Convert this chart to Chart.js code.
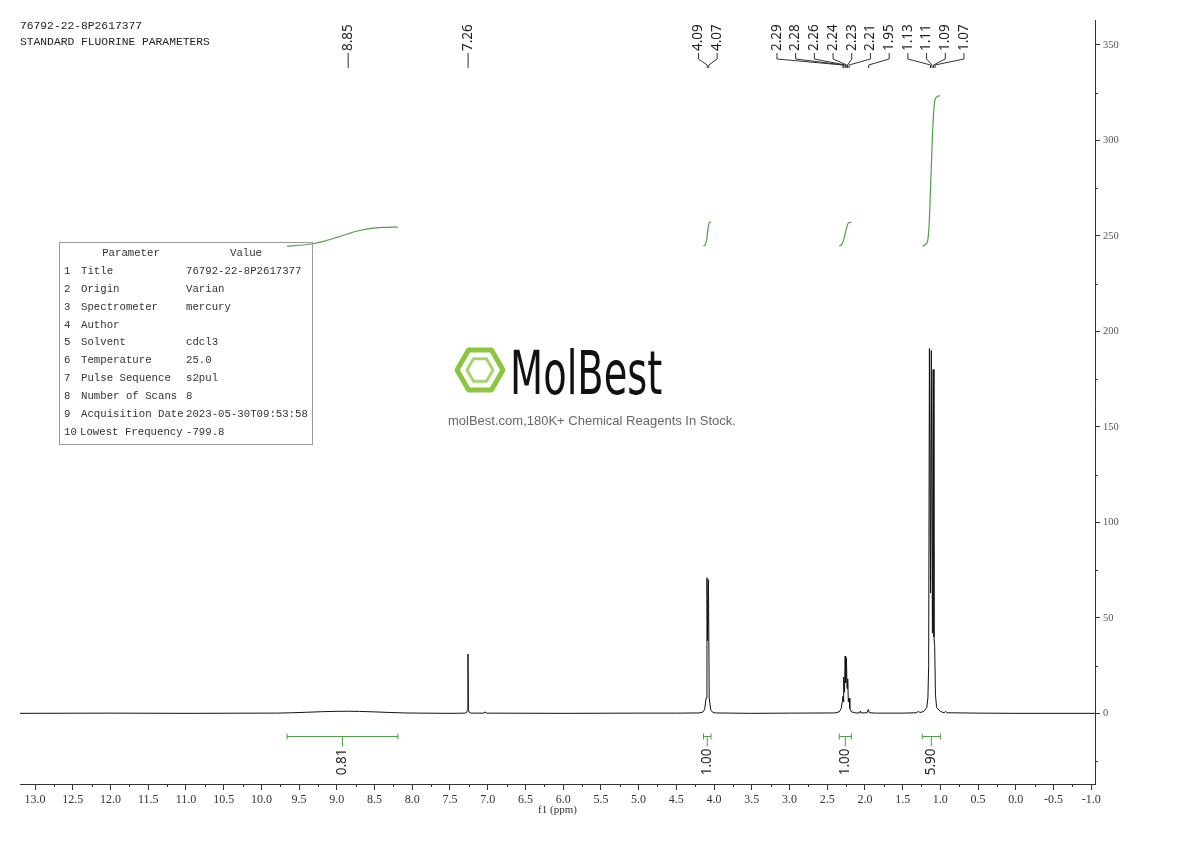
<!DOCTYPE html>
<html>
<head>
<meta charset="utf-8">
<title>76792-22-8P2617377</title>
<script src="https://cdn.jsdelivr.net/npm/chart.js@4.4.1/dist/chart.umd.min.js"></script>
<style>
  html, body { margin: 0; padding: 0; background: #fff; }
</style>
</head>
<body>
<canvas id="nmr" width="1190" height="841"></canvas>
<script>
const sampleTitle = "76792-22-8P2617377";
const experimentTitle = "STANDARD FLUORINE PARAMETERS";

// spectrum trace: shift (ppm) and intensity
const shiftPpm = [
  13.2, 12.0, 11.0, 10.0, 9.8, 9.6, 9.4, 9.2, 9.0, 8.85, 8.7, 8.5, 8.3, 8.1, 7.9, 7.5,
  7.30, 7.28, 7.268, 7.262, 7.256, 7.245, 7.22, 7.05, 7.035, 7.02, 6.0, 5.0, 4.5,
  4.20, 4.15, 4.125, 4.105, 4.094, 4.084, 4.074, 4.064, 4.045, 4.02, 3.98, 3.5, 3.0,
  2.40, 2.34, 2.315, 2.30, 2.29, 2.285, 2.278, 2.27, 2.262, 2.255, 2.245, 2.237, 2.228,
  2.22, 2.21, 2.20, 2.18, 2.12, 2.07, 2.06, 2.05, 1.97, 1.955, 1.94, 1.85, 1.5,
  1.32, 1.29, 1.27, 1.22, 1.18, 1.165, 1.155, 1.145, 1.13, 1.12, 1.105, 1.095, 1.085,
  1.075, 1.065, 1.05, 1.0, 0.95, 0.93, 0.91, 0.5, 0.0, -1.05
];
const intensity = [
  0, 0.1, 0, 0.1, 0.1, 0.3, 0.55, 0.85, 1.05, 1.1, 1.0, 0.75, 0.45, 0.2, 0.1, 0,
  0.1, 0.4, 2, 31, 2, 0.4, 0.1, 0.1, 0.8, 0.1, 0, 0.1, 0.1,
  0.2, 0.6, 2, 8, 71, 38, 70, 8, 2, 0.6, 0.2, 0, 0.1,
  0.2, 0.8, 2.5, 6, 9, 6, 19, 11, 30, 16, 29, 13, 18,
  6, 8, 2.5, 0.8, 0.2, 0.2, 1.2, 0.2, 0.3, 2, 0.3, 0.1, 0.1,
  0.3, 1, 0.4, 1, 3, 8, 25, 191, 63, 190, 42, 180, 40,
  35, 10, 3, 1, 0.3, 1, 0.3, 0.1, 0, 0
];

// integral curves
const int1Ppm = [9.66, 9.45, 9.30, 9.15, 9.00, 8.85, 8.70, 8.55, 8.40, 8.19];
const int1Val = [244.6, 245.2, 246.0, 247.4, 249.2, 251.1, 252.8, 253.9, 254.4, 254.6];
const int2Ppm = [4.14, 4.12, 4.10, 4.09, 4.08, 4.07, 4.06, 4.04];
const int2Val = [244.6, 245.2, 247.5, 250.5, 253.5, 256.0, 257.0, 257.3];
const int3Ppm = [2.34, 2.31, 2.28, 2.26, 2.24, 2.22, 2.18];
const int3Val = [244.6, 245.3, 248.0, 251.5, 254.5, 256.6, 257.2];
const int4Ppm = [1.24, 1.20, 1.17, 1.15, 1.13, 1.11, 1.09, 1.07, 1.04, 1.00];
const int4Val = [244.6, 245.3, 247.0, 255.0, 275.0, 297.0, 314.0, 321.5, 323.0, 323.3];

// integration regions under the trace
const integralFrom = [9.66, 4.14, 2.34, 1.24];
const integralTo = [8.19, 4.04, 2.18, 1.00];
const integralLabels = ["0.81", "1.00", "1.00", "5.90"];

// picked peaks
const peakShifts = [8.85, 7.26, 4.09, 4.07, 2.29, 2.28, 2.26, 2.24, 2.23, 2.21, 1.95, 1.13, 1.11, 1.09, 1.07];

const xTicks = [13.0, 12.5, 12.0, 11.5, 11.0, 10.5, 10.0, 9.5, 9.0, 8.5, 8.0, 7.5, 7.0, 6.5, 6.0,
  5.5, 5.0, 4.5, 4.0, 3.5, 3.0, 2.5, 2.0, 1.5, 1.0, 0.5, 0.0, -0.5, -1.0];
const yTicks = [0, 50, 100, 150, 200, 250, 300, 350];

const paramNames = ["Title", "Origin", "Spectrometer", "Author", "Solvent", "Temperature",
  "Pulse Sequence", "Number of Scans", "Acquisition Date", "Lowest Frequency"];
const paramValues = ["76792-22-8P2617377", "Varian", "mercury", "", "cdcl3", "25.0",
  "s2pul", "8", "2023-05-30T09:53:58", "-799.8"];

const green = "#4f9f4a";
const serif = '"Liberation Serif", "DejaVu Serif", serif';
const mono = '"Liberation Mono", "DejaVu Sans Mono", monospace';
const sans = '"Noto Sans", "Open Sans", sans-serif';

const toPoints = (xs, ys) => xs.map((v, i) => ({ x: v, y: ys[i] }));

// push overlapping labels apart into evenly spaced groups
function spreadLabels(xs, gap) {
  let groups = xs.map(v => ({ sum: v, n: 1, first: v, start: v }));
  let merged = true;
  while (merged) {
    merged = false;
    for (let i = 0; i < groups.length - 1; i++) {
      const a = groups[i], b = groups[i + 1];
      if (a.start + a.n * gap > b.start) {
        const g = { sum: a.sum + b.sum, n: a.n + b.n, first: a.first };
        const anchor = 0.75 * (g.sum / g.n) + 0.25 * g.first;
        g.start = anchor - (g.n - 1) * gap / 2;
        groups.splice(i, 2, g);
        merged = true;
        break;
      }
    }
  }
  const out = [];
  groups.forEach(g => { for (let k = 0; k < g.n; k++) out.push(g.start + k * gap); });
  return out;
}

const annotations = {
  id: "annotations",
  afterDraw(chart) {
    const { ctx, chartArea, scales: { x, y } } = chart;
    ctx.save();

    // minor ticks
    ctx.strokeStyle = "#333";
    ctx.lineWidth = 1;
    ctx.beginPath();
    xTicks.forEach(v => {
      const m = v - 0.25;
      if (m < -1.0) return;
      const px = Math.round(x.getPixelForValue(m)) + 0.5;
      ctx.moveTo(px, chartArea.bottom);
      ctx.lineTo(px, chartArea.bottom + 3);
    });
    yTicks.concat([-50]).forEach(v => {
      const m = v + 25;
      if (m > 360) return;
      const py = Math.round(y.getPixelForValue(m)) + 0.5;
      ctx.moveTo(chartArea.right, py);
      ctx.lineTo(chartArea.right + 3, py);
    });
    ctx.stroke();

    // header
    ctx.fillStyle = "#222";
    ctx.font = "11.3px " + mono;
    ctx.textBaseline = "middle";
    ctx.textAlign = "left";
    ctx.fillText(sampleTitle, 20, 26);
    ctx.fillText(experimentTitle, 20, 42);

    // parameter table
    ctx.strokeStyle = "#9a9a9a";
    ctx.strokeRect(59.5, 242.5, 253, 202);
    ctx.font = "10.7px " + mono;
    ctx.fillStyle = "#333";
    ctx.textAlign = "center";
    ctx.fillText("Parameter", 131, 253);
    ctx.fillText("Value", 246, 253);
    ctx.textAlign = "left";
    paramNames.forEach((n, i) => {
      const ty = 271 + i * 17.9;
      ctx.fillText(String(i + 1), 64, ty);
      ctx.fillText(n, i === 9 ? 80 : 81, ty);
      ctx.fillText(paramValues[i], 186, ty);
    });

    // watermark logo
    const cx = 480, cy = 370;
    const hex = r => {
      ctx.beginPath();
      for (let k = 0; k < 6; k++) {
        const a = Math.PI / 3 * k;
        const hx = cx + r * Math.cos(a), hy = cy + r * Math.sin(a);
        k ? ctx.lineTo(hx, hy) : ctx.moveTo(hx, hy);
      }
      ctx.closePath();
    };
    ctx.lineJoin = "round";
    ctx.strokeStyle = "#8cc63f";
    ctx.lineWidth = 5;
    hex(23);
    ctx.stroke();
    ctx.strokeStyle = "#a9d46c";
    ctx.lineWidth = 3;
    hex(13);
    ctx.stroke();
    ctx.save();
    ctx.translate(510, 394);
    ctx.scale(0.64, 1);
    ctx.fillStyle = "#111";
    ctx.font = '60px "DejaVu Sans", sans-serif';
    ctx.textBaseline = "alphabetic";
    ctx.fillText("MolBest", 0, 0);
    ctx.restore();
    ctx.fillStyle = "#666";
    ctx.font = '13px "Liberation Sans", Arial, sans-serif';
    ctx.textBaseline = "middle";
    ctx.fillText("molBest.com,180K+ Chemical Reagents In Stock.", 448, 421);

    // integration brackets and values
    const by = Math.round(y.getPixelForValue(-12)) + 0.5;
    ctx.font = "13.5px " + sans;
    integralFrom.forEach((f, i) => {
      const x1 = x.getPixelForValue(f), x2 = x.getPixelForValue(integralTo[i]);
      const mid = (x1 + x2) / 2;
      ctx.strokeStyle = green;
      ctx.lineWidth = 1;
      ctx.beginPath();
      ctx.moveTo(x1, by); ctx.lineTo(x2, by);
      ctx.moveTo(x1, by - 3); ctx.lineTo(x1, by + 3);
      ctx.moveTo(x2, by - 3); ctx.lineTo(x2, by + 3);
      ctx.moveTo(mid, by); ctx.lineTo(mid, by + 10);
      ctx.stroke();
      ctx.save();
      ctx.fillStyle = "#222";
      ctx.translate(mid, by + 12);
      ctx.rotate(-Math.PI / 2);
      ctx.textAlign = "right";
      ctx.fillText(integralLabels[i], 0, 0);
      ctx.restore();
    });

    // peak labels
    const peakPx = peakShifts.map(p => x.getPixelForValue(p));
    const labelPx = spreadLabels(peakPx, 18.7);
    ctx.strokeStyle = "#333";
    ctx.fillStyle = "#222";
    peakShifts.forEach((p, i) => {
      const lx = labelPx[i], px = peakPx[i];
      ctx.beginPath();
      if (Math.abs(lx - px) < 0.5) {
        ctx.moveTo(px, 53); ctx.lineTo(px, 68);
      } else {
        ctx.moveTo(lx, 53); ctx.lineTo(lx, 59);
        ctx.lineTo(px, 65); ctx.lineTo(px, 68);
      }
      ctx.stroke();
      ctx.save();
      ctx.translate(lx, 51);
      ctx.rotate(-Math.PI / 2);
      ctx.textAlign = "left";
      ctx.fillText(p.toFixed(2), 0, 0);
      ctx.restore();
    });

    ctx.restore();
  }
};

const integralStyle = {
  borderColor: green, borderWidth: 1.2, pointRadius: 0, tension: 0.3, fill: false
};

new Chart(document.getElementById("nmr"), {
  type: "line",
  data: {
    datasets: [
      {
        label: "spectrum",
        data: toPoints(shiftPpm, intensity),
        borderColor: "#111",
        borderWidth: 1,
        borderJoinStyle: "round",
        pointRadius: 0,
        tension: 0,
        fill: false
      },
      { label: "int1", data: toPoints(int1Ppm, int1Val), ...integralStyle },
      { label: "int2", data: toPoints(int2Ppm, int2Val), ...integralStyle },
      { label: "int3", data: toPoints(int3Ppm, int3Val), ...integralStyle },
      { label: "int4", data: toPoints(int4Ppm, int4Val), ...integralStyle }
    ]
  },
  options: {
    responsive: false,
    animation: false,
    layout: { padding: { left: 20, top: 20, right: 0, bottom: 21 } },
    plugins: { legend: { display: false }, tooltip: { enabled: false } },
    scales: {
      x: {
        type: "linear",
        reverse: true,
        min: -1.05,
        max: 13.2,
        afterFit(s) { s.height = 36; },
        afterBuildTicks(s) { s.ticks = xTicks.map(v => ({ value: v })); },
        grid: { drawOnChartArea: false, tickLength: 6, tickColor: "#333" },
        border: { display: true, color: "#333" },
        ticks: {
          autoSkip: false,
          maxRotation: 0,
          padding: 3,
          color: "#333",
          font: { family: serif, size: 12 },
          callback: v => v.toFixed(1)
        },
        title: {
          display: true,
          text: "f1 (ppm)",
          color: "#333",
          font: { family: serif, size: 11 },
          padding: { top: 0, bottom: 3 }
        }
      },
      y: {
        type: "linear",
        position: "right",
        min: -37,
        max: 363,
        afterFit(s) { s.width = 95; },
        afterBuildTicks(s) { s.ticks = yTicks.map(v => ({ value: v })); },
        grid: { drawOnChartArea: false, tickLength: 5, tickColor: "#333" },
        border: { display: true, color: "#333" },
        ticks: {
          padding: 3,
          color: "#555",
          font: { family: serif, size: 10.5 },
          callback: v => String(v)
        }
      }
    }
  },
  plugins: [annotations]
});
</script>
</body>
</html>
